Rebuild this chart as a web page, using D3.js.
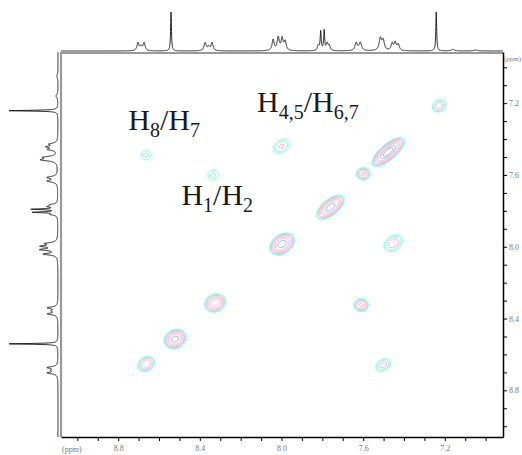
<!DOCTYPE html>
<html>
<head>
<meta charset="utf-8">
<script src="https://cdn.jsdelivr.net/npm/d3@7"></script>
<style>
body { margin: 0; background: #fff; }
svg { display: block; font-family: "Liberation Serif", "DejaVu Serif", serif; }
.axis path, .axis line { stroke: #000; }
.axis path { stroke-width: 1.5; }
.axis text { fill: #777; font-size: 8px; font-family: "Liberation Serif", serif; }
.spec { fill: none; stroke: #111; stroke-width: 0.9; }
.label { fill: #1a1a1a; font-size: 30px; }
</style>
</head>
<body>
<svg width="522" height="455"></svg>
<script>
//* 1D proton lines: shift (ppm), height, half width (ppm)
const lineShifts = [8.703, 8.688, 8.673, 8.541, 8.374, 8.357, 8.340, 8.041, 8.016, 7.997, 7.982,
	7.820, 7.808, 7.791, 7.776, 7.766, 7.634, 7.614, 7.516, 7.502, 7.458, 7.443, 7.428, 7.242, 7.16, 7.05];
const lineHeights = [8, 4, 8, 39, 8, 4, 8, 11, 13, 12, 9,
	5, 19, 20, 7, 5, 8, 8, 12, 10, 7, 8, 6, 39, 1.5, 1];
const lineWidths = [0.006, 0.006, 0.006, 0.0025, 0.006, 0.006, 0.006, 0.006, 0.006, 0.006, 0.006,
	0.005, 0.003, 0.003, 0.005, 0.005, 0.007, 0.007, 0.007, 0.007, 0.006, 0.006, 0.006, 0.0025, 0.01, 0.01];

//* COSY cross / diagonal peaks
const peakF2 = [8.663, 8.335, 8.0, 7.228, 7.477, 7.60, 7.76, 7.452, 7.997, 8.325, 7.61, 8.521, 8.663, 7.502];
const peakF1 = [7.49, 7.60, 7.44, 7.215, 7.472, 7.594, 7.78, 7.98, 7.985, 8.313, 8.325, 8.514, 8.653, 8.659];
const peakAmp = [2.0, 2.0, 2.8, 3.6, 22, 6, 16, 3.6, 16, 10, 6, 15, 5.5, 3.2];
const peakWidthDiag = [0.026, 0.028, 0.036, 0.026, 0.044, 0.019, 0.038, 0.036, 0.031, 0.027, 0.02, 0.026, 0.027, 0.03];
const peakWidthAnti = [0.026, 0.026, 0.025, 0.02, 0.017, 0.019, 0.018, 0.026, 0.022, 0.023, 0.02, 0.022, 0.021, 0.021];

//* contour levels and colours
const levels = [1, 1.3, 1.8, 2.6, 3.8, 5.5, 8, 12, 17];
const levelColors = ["#bff", "#5ef", "#7e7", "#f7f", "#fab", "#f99", "#bbf", "#88f", "#888"];

//* axis ticks
const majorTicks = [8.8, 8.4, 8.0, 7.6, 7.2];
const minorTicks = [9.0, 8.9, 8.8, 8.7, 8.6, 8.5, 8.4, 8.3, 8.2, 8.1, 8.0, 7.9, 7.8, 7.7, 7.6, 7.5, 7.4, 7.3, 7.2, 7.1, 7.0];

const annotations = [
	{ x: 8.75, y: 7.35, parts: [["H", ""], ["8", "s"], ["/H", ""], ["7", "s"]] },
	{ x: 8.12, y: 7.25, parts: [["H", ""], ["4,5", "s"], ["/H", ""], ["6,7", "s"]] },
	{ x: 8.49, y: 7.77, parts: [["H", ""], ["1", "s"], ["/H", ""], ["2", "s"]] }
];

const svg = d3.select("svg");
const plotLeft = 61, plotRight = 503, plotTop = 53, plotBottom = 437;

const x = d3.scaleLinear().domain([9.08, 6.915]).range([plotLeft, plotRight]);
const y = d3.scaleLinear().domain([6.915, 9.06]).range([plotTop - 1, plotBottom]);

//* 1D trace
const spectrum = (ppm) =>
	d3.sum(lineShifts, (s, i) => {
		const t = (ppm - s) / lineWidths[i];
		return lineHeights[i] / (1 + t * t);
	});

const ppmGrid = d3.range(6.915, 9.08, 0.0005);
const trace = ppmGrid.map((p) => [p, spectrum(p)]);
const maxI = d3.max(trace, (d) => d[1]);

const topH = d3.scaleLinear().domain([0, maxI]).range([51, 12]);
const leftH = d3.scaleLinear().domain([0, maxI]).range([58, 9]);

svg.append("path")
	.attr("class", "spec")
	.attr("d", d3.line().x((d) => x(d[0])).y((d) => topH(d[1]))(trace));
svg.append("path")
	.attr("class", "spec")
	.attr("d", d3.line().x((d) => leftH(d[1])).y((d) => y(d[0]))(trace.filter((d) => d[0] <= 9.06)));

//* gray frame lines
svg.append("line").attr("x1", plotLeft - 1).attr("x2", plotRight).attr("y1", plotTop).attr("y2", plotTop)
	.attr("stroke", "#999").attr("stroke-width", 2.2);
svg.append("line").attr("x1", plotLeft).attr("x2", plotLeft).attr("y1", plotTop).attr("y2", plotBottom)
	.attr("stroke", "#999").attr("stroke-width", 2.2);

//* contour grid
const nx = plotRight - plotLeft, ny = plotBottom - plotTop;
const values = new Float64Array(nx * ny);
for (let j = 0; j < ny; j++) {
	const f1 = y.invert(plotTop + j + 0.5);
	for (let i = 0; i < nx; i++) {
		const f2 = x.invert(plotLeft + i + 0.5);
		let v = 0;
		for (let k = 0; k < peakF2.length; k++) {
			const dx = f2 - peakF2[k], dy = f1 - peakF1[k];
			if (Math.abs(dx) > 0.25 || Math.abs(dy) > 0.25) continue;
			const u = (dx + dy) / Math.SQRT2, w = (dx - dy) / Math.SQRT2;
			const su = peakWidthDiag[k], sw = peakWidthAnti[k];
			v += peakAmp[k] * Math.exp(-(u * u) / (2 * su * su) - (w * w) / (2 * sw * sw));
		}
		values[j * nx + i] = v;
	}
}

const contours = d3.contours().size([nx, ny]).thresholds(levels)(values);
const contourPath = d3.geoPath(d3.geoIdentity().translate([plotLeft, plotTop]));

svg.append("g")
	.selectAll("path")
	.data(contours)
	.enter()
	.append("path")
	.attr("d", contourPath)
	.attr("fill", "none")
	.attr("stroke", (d) => levelColors[levels.indexOf(d.value)])
	.attr("stroke-width", 0.7);

//* axes
const fmt = (d) => (majorTicks.some((m) => Math.abs(m - d) < 1e-6) ? d.toFixed(1) : "");

svg.append("g")
	.attr("class", "axis")
	.attr("transform", `translate(0, ${plotBottom})`)
	.call(d3.axisBottom(x).tickValues(minorTicks).tickSize(4).tickSizeOuter(0).tickPadding(4).tickFormat(fmt));

svg.append("g")
	.attr("class", "axis")
	.attr("transform", `translate(${plotRight}, 0)`)
	.call(d3.axisRight(y).tickValues(minorTicks).tickSize(4).tickSizeOuter(0).tickPadding(2).tickFormat(fmt));

svg.append("text").attr("x", 62).attr("y", 452).attr("fill", "#777").attr("font-size", 8).text("(ppm)");
svg.append("text").attr("x", 504).attr("y", 61).attr("fill", "#777").attr("font-size", 7).text("(ppm)");

//* peak annotations
const labels = svg.append("g")
	.selectAll("text")
	.data(annotations)
	.enter()
	.append("text")
	.attr("class", "label")
	.attr("x", (d) => x(d.x))
	.attr("y", (d) => y(d.y));

labels.each(function (d) {
	const t = d3.select(this);
	let shifted = false;
	d.parts.forEach(([txt, kind]) => {
		const span = t.append("tspan").text(txt);
		if (kind === "s") {
			span.attr("font-size", "20px").attr("dy", shifted ? 0 : 7);
			shifted = true;
		} else {
			span.attr("dy", shifted ? -7 : 0);
			shifted = false;
		}
	});
});
</script>
</body>
</html>
